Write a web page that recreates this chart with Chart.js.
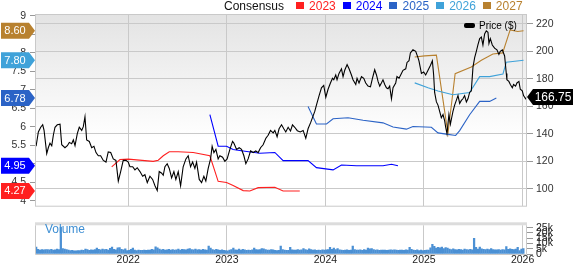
<!DOCTYPE html>
<html><head><meta charset="utf-8">
<script src="https://cdn.jsdelivr.net/npm/chart.js@4.4.1/dist/chart.umd.min.js"></script>
<style>
html,body{margin:0;padding:0;background:#fff;}
#wrap{position:relative;width:573px;height:264px;overflow:hidden;font-family:"Liberation Sans",Arial,sans-serif;}
#c1{position:absolute;left:0;top:0;}
#c2{position:absolute;left:0;top:216px;}
#legend{position:absolute;left:224px;top:0;height:12px;font-size:12px;line-height:12px;white-space:nowrap;display:flex;align-items:flex-start;}
#legend .sq{display:inline-block;width:8px;height:7px;margin-top:2px;margin-right:5px;}
#legend .it{display:flex;margin-right:7px;}
#plg{position:absolute;left:464px;top:20px;font-size:10px;line-height:11px;white-space:nowrap;color:#000;}
#plg .bar{display:inline-block;width:11px;height:5px;background:#000;border-radius:2px;vertical-align:1px;margin-right:4px;}
#vol{position:absolute;left:45px;top:223px;font-size:12px;line-height:12px;color:#3d8ed3;}
</style></head><body>
<div id="wrap">
<canvas id="c1" width="573" height="216"></canvas>
<canvas id="c2" width="573" height="48"></canvas>
<div id="legend"></div>
<div id="plg"><span class="bar"></span>Price ($)</div>
<div id="vol">Volume</div>
</div>
<script>
// ---------- data ----------
const xTickYears = [2022, 2023, 2024, 2025, 2026];
const epsTicks = [4, 4.5, 5, 5.5, 6, 6.5, 7, 7.5, 8, 8.5, 9];
const priceTicks = [100, 120, 140, 160, 180, 200, 220];
const volTicks = [0, 5, 10, 15, 20, 25];
const seriesNames = ['2023', '2024', '2025', '2026', '2027'];

const priceDates = [
2021.065,2021.088,2021.112,2021.132,2021.146,2021.173,2021.189,2021.206,2021.224,2021.240,2021.257,2021.280,2021.308,2021.325,2021.358,2021.382,2021.402,2021.426,2021.443,2021.460,2021.483,2021.503,2021.528,2021.544,2021.561,2021.578,2021.605,2021.629,2021.652,2021.673,2021.696,2021.720,2021.747,2021.774,2021.797,2021.822,2021.848,2021.875,2021.899,2021.923,2021.949,2021.977,
2022.000,2022.017,2022.045,2022.068,2022.091,2022.119,2022.146,2022.169,2022.193,2022.220,2022.247,2022.271,2022.294,2022.314,2022.339,2022.355,2022.372,2022.395,2022.416,2022.440,2022.463,2022.483,2022.507,2022.531,2022.557,2022.585,2022.608,2022.632,2022.653,2022.676,2022.693,2022.720,2022.744,2022.767,2022.787,2022.811,2022.835,2022.851,2022.869,2022.889,2022.912,2022.929,2022.957,2022.980,
2023.003,2023.031,2023.058,2023.071,2023.099,2023.125,2023.149,2023.173,2023.193,2023.216,2023.241,2023.267,2023.294,2023.318,2023.342,2023.368,2023.396,2023.419,2023.443,2023.470,2023.487,2023.510,2023.530,2023.555,2023.578,2023.598,2023.622,2023.646,2023.666,2023.689,2023.715,2023.745,2023.774,2023.801,2023.824,2023.852,
2023.892,2023.909,2023.936,2023.960,2023.983,2024.004,2024.027,2024.051,2024.072,2024.085,2024.105,2024.118,2024.138,2024.163,2024.179,2024.196,2024.220,2024.240,2024.264,2024.280,2024.308,2024.321,2024.341,2024.366,2024.389,2024.409,2024.432,2024.457,2024.477,2024.500,2024.518,2024.534,2024.551,2024.568,2024.584,2024.602,2024.619,2024.635,2024.652,2024.670,2024.686,2024.713,2024.726,2024.747,2024.771,2024.787,2024.815,2024.828,2024.848,2024.862,2024.888,2024.916,2024.939,2024.949,
2024.974,2024.997,2025.017,2025.041,2025.065,2025.085,2025.098,2025.108,2025.126,2025.142,2025.159,2025.176,2025.193,2025.210,2025.220,2025.233,2025.243,2025.253,2025.268,2025.281,2025.294,2025.311,2025.328,2025.345,2025.362,2025.379,2025.395,2025.412,2025.430,2025.446,2025.463,2025.480,2025.497,2025.514,2025.531,2025.547,2025.565,2025.582,2025.598,2025.615,2025.632,2025.649,2025.659,2025.673,2025.693,2025.716,2025.740,2025.760,2025.774,2025.795,2025.818,2025.835,2025.841,2025.861,2025.876,2025.896,2025.909,2025.929,2025.943,2025.963,2025.977,2025.997,2026.010,2026.031,2026.044];
const priceValues = [
131.0,141.4,144.8,146.6,142.5,125.7,129.9,133.3,131.4,139.0,144.8,146.6,147.1,132.1,129.9,131.4,133.8,132.8,135.6,131.4,140.2,144.8,142.5,145.2,152.4,135.6,134.5,129.9,131.0,126.4,124.1,124.1,120.7,119.5,126.9,126.4,121.8,120.7,105.7,112.6,120.7,120.7,
119.5,116.1,116.1,113.8,115.4,112.6,109.2,110.3,104.6,109.2,106.9,102.3,98.8,112.6,111.4,109.9,116.1,118.3,114.9,108.0,112.6,106.9,112.6,102.3,116.1,121.8,124.1,116.1,119.5,114.9,119.5,106.9,104.6,109.2,105.7,114.9,121.8,131.0,126.4,128.7,121.8,124.1,123.0,120.0,
121.8,128.7,134.5,133.3,128.7,129.9,128.7,124.1,118.3,121.8,127.6,126.4,127.6,126.4,129.9,132.1,136.8,139.0,142.5,140.7,142.5,137.9,143.7,146.6,143.7,141.4,144.8,142.1,146.6,144.8,142.3,141.4,142.5,136.8,143.7,148.5,
156.3,160.9,167.8,173.5,175.2,166.6,172.4,177.0,180.4,179.3,182.8,179.3,183.9,187.3,181.6,186.2,190.3,187.3,182.8,179.3,175.9,180.4,177.0,181.6,180.4,177.0,174.7,174.2,180.4,186.6,182.8,178.1,174.7,177.0,179.3,175.9,173.5,172.8,174.7,165.5,173.5,177.0,181.6,180.4,183.9,186.2,187.3,191.9,193.1,198.8,201.1,200.0,195.4,193.1,
183.9,185.0,182.8,186.2,189.7,193.1,182.8,170.1,163.2,160.9,156.3,151.7,154.0,149.4,144.8,140.2,147.1,154.0,147.1,151.7,156.3,160.9,164.3,167.8,162.1,164.3,165.5,167.8,163.2,165.5,170.1,171.2,188.5,195.4,200.0,204.6,209.2,210.3,204.6,212.6,214.9,213.8,205.7,209.2,204.6,202.3,201.1,197.7,200.0,201.1,196.6,183.9,179.3,178.1,175.9,173.5,175.9,174.7,177.0,178.1,172.4,171.2,167.8,165.5,166.75];

const eps2023Dates = [2021.832,2021.916,2022.000,2022.253,2022.304,2022.355,2022.416,2022.507,2022.659,2022.828,2022.912,2022.997,2023.064,2023.166,2023.233,2023.318,2023.487,2023.571,2023.740];
const eps2023Values = [4.92,5.12,5.13,5.07,5.10,5.22,5.33,5.33,5.31,5.22,4.53,4.50,4.42,4.28,4.27,4.36,4.37,4.27,4.27];
const eps2024Dates = [2022.828,2022.912,2022.997,2023.064,2023.166,2023.335,2023.487,2023.571,2023.824,2023.909,2024.078,2024.163,2024.315,2024.584,2024.670,2024.736];
const eps2024Values = [6.33,5.48,5.48,5.39,5.35,5.29,5.31,5.09,5.09,4.90,4.84,4.97,4.95,4.95,4.99,4.95];
const eps2025Dates = [2023.824,2023.909,2024.011,2024.078,2024.230,2024.382,2024.584,2024.686,2024.822,2024.888,2025.075,2025.142,2025.243,2025.321,2025.362,2025.463,2025.565,2025.666,2025.734];
const eps2025Values = [6.55,6.08,6.08,6.22,6.25,6.18,6.11,6.00,5.94,6.01,5.99,5.84,5.80,5.77,5.90,6.33,6.69,6.69,6.78];
const eps2026Dates = [2024.906,2025.041,2025.142,2025.294,2025.463,2025.565,2025.666,2025.801,2025.835,2026.010];
const eps2026Values = [7.19,7.06,6.97,6.87,6.93,7.36,7.36,7.43,7.75,7.80];
const eps2027Dates = [2024.906,2025.007,2025.126,2025.243,2025.316,2025.480,2025.582,2025.699,2025.798,2025.874,2025.950,2026.010];
const eps2027Values = [7.89,7.92,7.94,5.82,7.44,7.62,7.80,7.97,8.00,8.62,8.58,8.60];

// weekly volume (thousands), first week starting 2021.066
const volStart = 2021.066;
const vol2021 = [6.5,4.5,3.8,4.2,4.0,4.3,4.1,3.9,4.4,3.7,4.0,4.6,4.2,25.5,5.2,4.6,4.3,3.6,3.2,3.4,3.0,3.1,3.3,3.2,3.6,3.4,4.6,4.2,3.5,4.0,3.8,4.3,5.6,4.4,3.9,4.7,4.2,4.5,3.8,5.4,6.6,4.4,3.9,5.9,6.2,4.5,4.0,4.8];
const vol2022 = [3.2,3.5,4.4,5.6,3.6,3.2,3.6,3.4,3.5,3.6,3.4,3.8,3.6,4.5,3.9,6.9,5.8,4.7,4.0,4.4,3.7,3.9,4.5,3.6,4.1,3.8,4.0,4.6,3.7,4.4,4.1,3.9,4.7,5.2,4.3,4.0,4.6,3.9,4.2,3.7,4.4,4.0,3.8,7.4,5.6,4.3,3.6,4.5,3.9,3.5,4.0,3.4];
const vol2023 = [3.3,3.0,3.6,4.2,5.5,4.0,3.8,4.6,3.6,4.4,3.9,3.5,3.7,3.4,4.0,5.6,4.2,3.9,4.3,5.2,4.8,4.1,3.8,3.6,4.2,3.9,3.4,3.3,3.4,7.6,4.3,3.8,3.5,3.4,6.3,4.0,3.7,3.8,4.1,3.6,3.9,5.2,4.1,3.8,5.0,4.2,3.6,3.9,3.5,3.7,3.4,4.0];
const vol2024 = [3.6,3.9,4.1,6.3,4.5,5.7,4.2,5.1,4.0,3.7,3.5,3.6,3.9,3.4,3.8,7.6,4.3,3.7,3.6,3.9,3.5,4.1,3.8,5.7,5.0,5.2,4.1,3.6,3.9,3.5,3.8,3.6,3.7,3.4,3.8,4.0,3.6,3.9,3.7,3.5,3.6,3.8,3.5,3.9,3.7,6.4,4.5,3.6,3.4,3.9,3.3,3.6];
const vol2025 = [3.3,3.5,3.6,3.8,5.9,9.2,7.2,5.5,6.4,5.8,6.6,5.2,6.1,5.5,4.6,4.2,4.8,4.3,3.9,4.4,4.1,3.8,4.6,4.2,4.0,4.4,3.9,14.8,6.4,4.6,6.6,4.8,4.4,4.2,4.7,4.1,5.2,4.3,3.9,4.0,4.2,3.8,4.1,4.0,7.0,4.4,5.0,4.5,4.2,4.6,6.3,3.3];
const vol2026 = [4.6,5.1];

// ---------- styles ----------
const seriesColors = ['#ff2020', '#0000ff', '#2b63c6', '#3fa2d9', '#b8812f'];
const volColor = '#4b90d4';
const gridColor = '#c9c9c9';
const FONT = '"Liberation Sans", Arial, sans-serif';
Chart.defaults.font.family = FONT;
Chart.defaults.color = '#333';

const volValues = [].concat(vol2021, vol2022, vol2023, vol2024, vol2025, vol2026);
const volDates = volValues.map((v, i) => volStart + i / 52);
const epsDates = [eps2023Dates, eps2024Dates, eps2025Dates, eps2026Dates, eps2027Dates];
const epsValues = [eps2023Values, eps2024Values, eps2025Values, eps2026Values, eps2027Values];

const X_MIN = 2021.054, X_MAX = 2026.045;

// legend
const lg = document.getElementById('legend');
lg.innerHTML = '<span style="margin-right:12px;color:#111">Consensus</span>' + seriesNames.map((n, i) =>
  `<span class="it"><span class="sq" style="background:${seriesColors[i]}"></span><span style="color:${seriesColors[i]}">${n}</span></span>`).join('');

function pts(d, v) { return d.map((t, i) => ({x: t, y: v[i]})); }

function tag(ctx, x0, y, w, dir, color, text, fs) {
  const h = 8;
  ctx.beginPath();
  if (dir > 0) {
    ctx.moveTo(x0, y - h); ctx.lineTo(x0 + w - 6, y - h); ctx.lineTo(x0 + w, y);
    ctx.lineTo(x0 + w - 6, y + h); ctx.lineTo(x0, y + h);
  } else {
    ctx.moveTo(x0, y); ctx.lineTo(x0 + 6, y - h); ctx.lineTo(x0 + w, y - h);
    ctx.lineTo(x0 + w, y + h); ctx.lineTo(x0 + 6, y + h);
  }
  ctx.closePath(); ctx.fillStyle = color; ctx.fill();
  ctx.fillStyle = '#fff'; ctx.font = fs + 'px ' + FONT;
  ctx.textAlign = 'center'; ctx.textBaseline = 'middle';
  const cx = dir > 0 ? x0 + (w - 6) / 2 : x0 + 6 + (w - 6) / 2;
  ctx.fillText(text, cx, y + 0.5);
}

const mainPlugin = {
  id: 'mainDeco',
  beforeDraw(chart) {
    const {ctx, chartArea: a} = chart;
    const g = ctx.createLinearGradient(0, a.top, 0, a.bottom);
    g.addColorStop(0, '#e3e3e3'); g.addColorStop(0.65, '#ffffff'); g.addColorStop(1, '#ffffff');
    ctx.save(); ctx.fillStyle = g; ctx.fillRect(a.left, a.top, a.width, a.height); ctx.restore();
  },
  afterDraw(chart) {
    const {ctx, chartArea: a, scales} = chart;
    ctx.save();
    ctx.strokeStyle = gridColor; ctx.lineWidth = 1;
    ctx.strokeRect(a.left + 0.5, a.top + 0.5, a.width - 1, a.height);
    epsValues.forEach((vals, i) => {
      const v = vals[vals.length - 1];
      tag(ctx, 1, scales.yEps.getPixelForValue(v), 34, 1, seriesColors[i], v.toFixed(2), 11);
    });
    const last = priceValues[priceValues.length - 1];
    tag(ctx, a.right, scales.yPrice.getPixelForValue(last), 573 - a.right, -1, '#000', last.toFixed(2), 12);
    ctx.restore();
  }
};

function xScale(extra) {
  return Object.assign({
    type: 'linear', min: X_MIN, max: X_MAX, offset: false, bounds: 'ticks',
    afterBuildTicks: s => { s.ticks = xTickYears.map(v => ({value: v})); },
    grid: {color: gridColor, drawTicks: false, offset: false},
    border: {display: false}
  }, extra);
}

new Chart(document.getElementById('c1'), {
  type: 'line',
  data: {
    datasets: [
      {data: pts(priceDates, priceValues), yAxisID: 'yPrice', borderColor: '#000', borderWidth: 1.1},
      ...seriesNames.map((n, i) => ({data: pts(epsDates[i], epsValues[i]), yAxisID: 'yEps', borderColor: seriesColors[i], borderWidth: 1.1}))
    ]
  },
  options: {
    responsive: false, animation: false, events: [],
    layout: {padding: {top: 14, left: 0, right: 0, bottom: 0}},
    elements: {point: {radius: 0}, line: {tension: 0, fill: false}},
    plugins: {legend: {display: false}, tooltip: {enabled: false}},
    scales: {
      x: xScale({ticks: {display: false}, afterFit: s => { s.height = 0; }}),
      yEps: {
        position: 'left', min: 3.872, max: 9.051,
        afterBuildTicks: s => { s.ticks = epsTicks.map(v => ({value: v})); },
        ticks: {font: {size: 10.5}, padding: 4, color: '#333', callback: v => String(v)},
        grid: {drawOnChartArea: false, tickLength: 5, color: '#999'},
        border: {display: false},
        afterFit: s => { s.width = 35; }
      },
      yPrice: {
        position: 'right', min: 87.8, max: 227.1,
        afterBuildTicks: s => { s.ticks = priceTicks.map(v => ({value: v})); },
        ticks: {font: {size: 10.5}, padding: 3, color: '#333', callback: v => String(v)},
        grid: {color: gridColor, tickLength: 6, tickColor: '#999'},
        border: {display: false},
        afterFit: s => { s.width = 46; }
      }
    }
  },
  plugins: [mainPlugin]
});

const volPlugin = {
  id: 'volDeco',
  beforeDraw(chart) {
    const {ctx, chartArea: a} = chart;
    ctx.save(); ctx.fillStyle = '#dcdcdc'; ctx.fillRect(a.left, a.top - 3, a.width, 3); ctx.restore();
  },
  afterDraw(chart) {
    const {ctx, chartArea: a} = chart;
    ctx.save(); ctx.strokeStyle = gridColor; ctx.lineWidth = 1;
    ctx.beginPath();
    ctx.moveTo(a.left + 0.5, a.top); ctx.lineTo(a.left + 0.5, a.bottom + 0.5);
    ctx.lineTo(a.right - 0.5, a.bottom + 0.5); ctx.lineTo(a.right - 0.5, a.top);
    ctx.stroke(); ctx.restore();
  }
};

new Chart(document.getElementById('c2'), {
  type: 'bar',
  data: {datasets: [{data: pts(volDates, volValues), yAxisID: 'yVol', backgroundColor: volColor, barThickness: 1.6}]},
  options: {
    responsive: false, animation: false, events: [],
    layout: {padding: {top: 3, left: 35, right: 0, bottom: 0}},
    plugins: {legend: {display: false}, tooltip: {enabled: false}},
    scales: {
      x: xScale({
        ticks: {font: {size: 10.5}, padding: 0, color: '#222', callback: v => String(v), maxRotation: 0, autoSkip: false},
        afterFit: s => { s.height = 10; }
      }),
      yVol: {
        position: 'right', min: 0, max: 27.2,
        afterBuildTicks: s => { s.ticks = volTicks.map(v => ({value: v})); },
        ticks: {font: {size: 10.5}, padding: 3, color: '#222', autoSkip: false, callback: v => v === 0 ? '0' : v + 'k'},
        grid: {drawOnChartArea: false, tickLength: 6, color: '#999'},
        border: {display: false},
        afterFit: s => { s.width = 46; }
      }
    }
  },
  plugins: [volPlugin]
});
</script>
</body></html>
